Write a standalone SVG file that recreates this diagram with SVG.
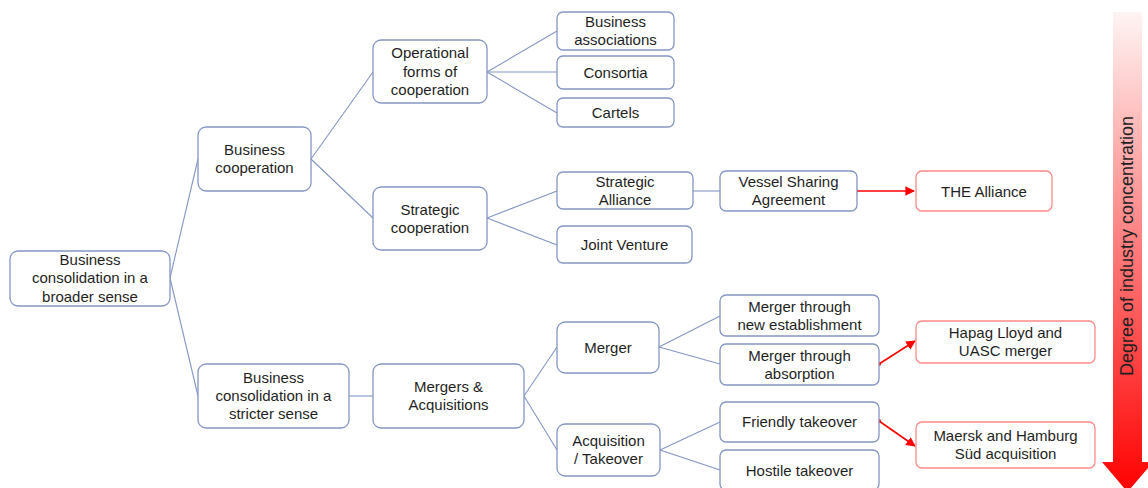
<svg xmlns="http://www.w3.org/2000/svg" width="1148" height="488" viewBox="0 0 1148 488">
<style>
  .n rect { fill: #ffffff; stroke: #8596c4; stroke-width: 1.3; }
  .r rect { fill: #ffffff; stroke: #ff8a8a; stroke-width: 1.3; }
  text { font-family: "Liberation Sans", Arial, sans-serif; font-size: 15px; fill: #1f1f1f; text-anchor: middle; }
  .c line { stroke: #8596c4; stroke-width: 1.1; }
  .ra line { stroke: #ff0000; stroke-width: 1.6; }
  .ra circle { fill: #ff0000; }
</style>
<defs>
  <marker id="ah" viewBox="0 0 10 10" refX="9" refY="5" markerWidth="6" markerHeight="7" markerUnits="strokeWidth" orient="auto">
    <path d="M0,0 L10,5 L0,10 z" fill="#ff0000"/>
  </marker>
  <linearGradient id="g" x1="0" y1="0" x2="0" y2="1">
    <stop offset="0" stop-color="#fff4f4"/>
    <stop offset="0.5" stop-color="#ff7a7a"/>
    <stop offset="1" stop-color="#ff0000"/>
  </linearGradient>
</defs>
<rect width="1148" height="488" fill="#ffffff"/>

<g id="connectors" class="c">
  <line x1="170" y1="278" x2="198" y2="159"/>
  <line x1="170" y1="278" x2="198" y2="396"/>
  <line x1="311" y1="159" x2="373" y2="72"/>
  <line x1="311" y1="159" x2="373" y2="218"/>
  <line x1="487" y1="72" x2="557" y2="31"/>
  <line x1="487" y1="72" x2="557" y2="72"/>
  <line x1="487" y1="72" x2="557" y2="113"/>
  <line x1="487" y1="218" x2="557" y2="191"/>
  <line x1="487" y1="218" x2="557" y2="245"/>
  <line x1="693" y1="191" x2="720" y2="191"/>
  <line x1="349" y1="396" x2="373" y2="396"/>
  <line x1="524" y1="396" x2="557" y2="347"/>
  <line x1="524" y1="396" x2="557" y2="450"/>
  <line x1="659" y1="347" x2="720" y2="316"/>
  <line x1="659" y1="347" x2="720" y2="364"/>
  <line x1="660" y1="450" x2="720" y2="422"/>
  <line x1="660" y1="450" x2="720" y2="470"/>
</g>

<g id="red-arrows" class="ra">
  <line x1="856" y1="191" x2="914" y2="191" marker-end="url(#ah)"/>
  <circle cx="856" cy="191" r="2"/>
  <line x1="879" y1="364" x2="915" y2="341" marker-end="url(#ah)"/>
  <circle cx="879" cy="364" r="2"/>
  <line x1="879" y1="421" x2="915" y2="446" marker-end="url(#ah)"/>
  <circle cx="879" cy="421" r="2"/>
</g>

<g id="root" class="n">
  <rect x="10" y="251" width="160" height="55" rx="8"/>
  <text x="90" y="265">Business</text>
  <text x="90" y="283.3">consolidation in a</text>
  <text x="90" y="301.6">broader sense</text>
</g>
<g id="business-cooperation" class="n">
  <rect x="198" y="127" width="113" height="64" rx="8"/>
  <text x="254.5" y="155">Business</text>
  <text x="254.5" y="173.3">cooperation</text>
</g>
<g id="stricter" class="n">
  <rect x="198" y="364" width="151" height="64" rx="8"/>
  <text x="273.5" y="382.5">Business</text>
  <text x="273.5" y="400.8">consolidation in a</text>
  <text x="273.5" y="419.1">stricter sense</text>
</g>
<g id="operational" class="n">
  <rect x="373" y="40" width="114" height="63" rx="8"/>
  <text x="430" y="58.3">Operational</text>
  <text x="430" y="76.6">forms of</text>
  <text x="430" y="94.9">cooperation</text>
</g>
<g id="strategic-cooperation" class="n">
  <rect x="373" y="187" width="114" height="63" rx="8"/>
  <text x="430" y="214.5">Strategic</text>
  <text x="430" y="232.8">cooperation</text>
</g>
<g id="mergers-acquisitions" class="n">
  <rect x="373" y="364" width="151" height="64" rx="8"/>
  <text x="448.5" y="391.5">Mergers &amp;</text>
  <text x="448.5" y="409.8">Acquisitions</text>
</g>
<g id="business-associations" class="n">
  <rect x="557" y="12" width="117" height="38" rx="6"/>
  <text x="615.5" y="26.5">Business</text>
  <text x="615.5" y="44.8">associations</text>
</g>
<g id="consortia" class="n">
  <rect x="557" y="56" width="117" height="33" rx="6"/>
  <text x="615.5" y="77.5">Consortia</text>
</g>
<g id="cartels" class="n">
  <rect x="557" y="98" width="117" height="29" rx="6"/>
  <text x="615.5" y="117.5">Cartels</text>
</g>
<g id="strategic-alliance" class="n">
  <rect x="557" y="172" width="136" height="37" rx="6"/>
  <text x="625" y="186.5">Strategic</text>
  <text x="625" y="204.8">Alliance</text>
</g>
<g id="joint-venture" class="n">
  <rect x="557" y="226" width="135" height="37" rx="6"/>
  <text x="624.5" y="249.5">Joint Venture</text>
</g>
<g id="vessel-sharing" class="n">
  <rect x="720" y="171" width="137" height="40" rx="6"/>
  <text x="788.5" y="187">Vessel Sharing</text>
  <text x="788.5" y="205.3">Agreement</text>
</g>
<g id="the-alliance" class="r">
  <rect x="916" y="171" width="136" height="40" rx="6"/>
  <text x="984" y="196.5">THE Alliance</text>
</g>
<g id="merger" class="n">
  <rect x="557" y="322" width="102" height="51" rx="8"/>
  <text x="608" y="352.5">Merger</text>
</g>
<g id="acquisition" class="n">
  <rect x="557" y="424" width="103" height="52" rx="8"/>
  <text x="608.5" y="446">Acquisition</text>
  <text x="608.5" y="464.3">/ Takeover</text>
</g>
<g id="merger-new" class="n">
  <rect x="720" y="295" width="159" height="41" rx="6"/>
  <text x="799.5" y="311.5">Merger through</text>
  <text x="799.5" y="329.8">new establishment</text>
</g>
<g id="merger-absorption" class="n">
  <rect x="720" y="344" width="159" height="41" rx="6"/>
  <text x="799.5" y="360.5">Merger through</text>
  <text x="799.5" y="378.8">absorption</text>
</g>
<g id="friendly" class="n">
  <rect x="720" y="402" width="159" height="40" rx="6"/>
  <text x="799.5" y="427">Friendly takeover</text>
</g>
<g id="hostile" class="n">
  <rect x="720" y="450" width="159" height="40" rx="6"/>
  <text x="799.5" y="476">Hostile takeover</text>
</g>
<g id="hapag" class="r">
  <rect x="916" y="321" width="179" height="42" rx="6"/>
  <text x="1005.5" y="337.5">Hapag Lloyd and</text>
  <text x="1005.5" y="355.8">UASC merger</text>
</g>
<g id="maersk" class="r">
  <rect x="916" y="422" width="179" height="46" rx="6"/>
  <text x="1005.5" y="441">Maersk and Hamburg</text>
  <text x="1005.5" y="459.3">Süd acquisition</text>
</g>

<g id="concentration-arrow">
  <path d="M1113,12 H1142 V462 H1153 L1127.5,492 L1102,462 H1113 Z" fill="url(#g)"/>
  <text transform="translate(1133,246) rotate(-90)" style="font-size:18px">Degree of industry concentration</text>
</g>
</svg>
